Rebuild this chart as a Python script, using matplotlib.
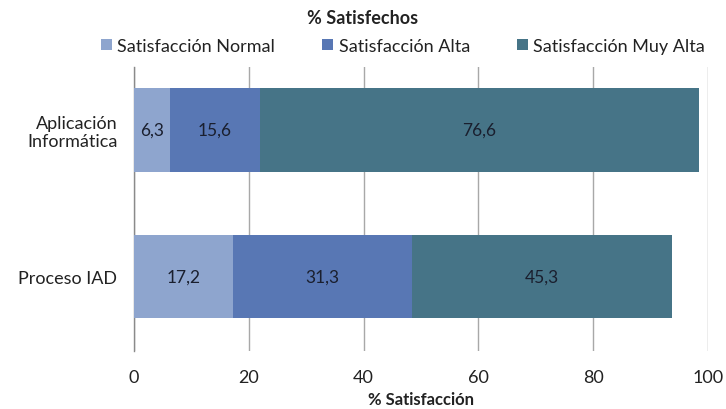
import matplotlib
matplotlib.use("Agg")
import matplotlib.pyplot as plt
from matplotlib.patches import Patch

categories = ["Aplicación\nInformática", "Proceso IAD"]
series_names = ["Satisfacción Normal", "Satisfacción Alta", "Satisfacción Muy Alta"]
normal = [6.3, 17.2]
alta = [15.6, 31.3]
muy_alta = [76.6, 45.3]
xticks = [0, 20, 40, 60, 80, 100]

colors = ["#8EA5CE", "#5877B4", "#467487"]

plt.rcParams['font.family'] = ['Lato', 'DejaVu Sans']

fig = plt.figure(figsize=(7.26, 4.10), dpi=100)
ax = fig.add_axes([134/726, 1-352/410, (708-134)/726, (352-68)/410])

ypos = list(range(len(categories)))
left = [0]*len(categories)
for vals, col in zip([normal, alta, muy_alta], colors):
    ax.barh(ypos, vals, left=left, height=0.57, color=col, zorder=3)
    for y, l, v in zip(ypos, left, vals):
        ax.text(l + v/2, y, f"{v:.1f}".replace(".", ","), ha="center", va="center",
                fontsize=12.5, color="#1a1f2e", zorder=4)
    left = [a + b for a, b in zip(left, vals)]

ax.set_xlim(0, 100)
ax.set_ylim(1.51, -0.43)
ax.set_xticks(xticks)
ax.set_xticklabels([str(t) for t in xticks], fontsize=13, color="#222222")
ax.set_yticks(ypos)
ax.set_yticklabels(categories, fontsize=13, color="#222222", linespacing=1.15)
ax.tick_params(axis="x", length=0, pad=13)
ax.tick_params(axis="y", length=0, pad=12)
ax.xaxis.grid(True, color="#a8a8a8", linewidth=1.0, zorder=0)
for s in ["top", "right", "bottom"]:
    ax.spines[s].set_visible(False)
ax.spines["left"].set_color("#8a8a8a")
ax.spines["left"].set_linewidth(1.0)

ax.set_xlabel("% Satisfacción", fontsize=12, fontweight="bold", color="#222222", labelpad=4)
fig.text(0.5, 1-19/410, "% Satisfechos", ha="center", va="center", fontsize=13, fontweight="bold", color="#222222")

handles = [Patch(facecolor=c, edgecolor="none") for c in colors]
fig.legend(handles, series_names, loc="center", bbox_to_anchor=(403/726, 1-47/410), ncol=3,
           frameon=False, fontsize=13, handlelength=0.6, handleheight=0.6, handletextpad=0.3,
           columnspacing=2.6, labelcolor="#222222", borderpad=0)

fig.savefig("out.png", dpi=100)
